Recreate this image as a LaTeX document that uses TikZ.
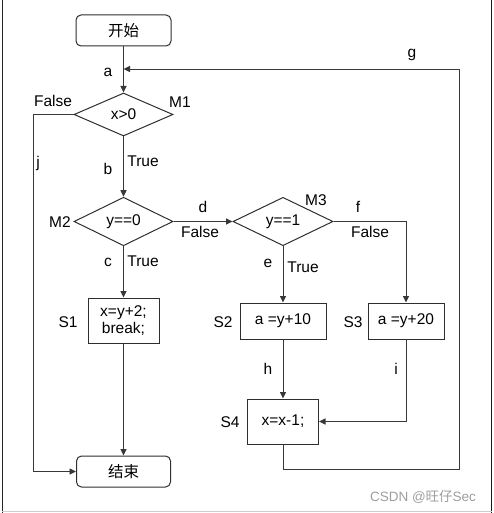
\documentclass[tikz,border=0pt]{standalone}
\usepackage{fontspec}
\setmainfont{Liberation Sans}
\newfontfamily\cjk{Noto Sans CJK SC}
\usetikzlibrary{shapes.geometric,arrows.meta}
\begin{document}
\begin{tikzpicture}[x=1pt,y=-1pt,
  every node/.style={font=\fontsize{15.5}{18}\selectfont, inner sep=0pt},
  lineclr/.style={draw=black!78, line width=0.9pt},
  arr/.style={lineclr, -{Triangle[length=6.5pt,width=6pt]}},
  startend/.style={draw=black!82, line width=1pt, rounded corners=5pt, minimum width=95pt, minimum height=31pt},
  dec/.style={diamond, draw=black!82, line width=1pt, minimum width=99pt, minimum height=43pt, inner sep=0pt},
  proc/.style={draw=black!82, line width=1pt, align=center},
  lbl/.style={font=\fontsize{15.5}{18}\selectfont}
]
\useasboundingbox (0,0) rectangle (493,513);
% frame
\draw[black!85, line width=1pt] (2,0) -- (2,513);
\draw[black!90, line width=1.5pt] (491.5,0) -- (491.5,513);
\draw[black!20, line width=1pt] (2,511.5) -- (491.5,511.5);

% nodes
\node[startend] (start) at (123.5,30.5) {\cjk 开始};
\node[dec] (m1) at (123.5,114.5) {x>0};
\node[dec] (m2) at (123.5,221.5) {y==0};
\node[dec, minimum width=100pt, minimum height=44pt] (m3) at (283,221.5) {y==1};
\node[proc, minimum width=71pt, minimum height=45pt] (s1) at (123.5,320.5) {x=y+2;\\[-1pt]break;};
\node[proc, minimum width=86pt, minimum height=36pt] (s2) at (283,321) {a =y+10};
\node[proc, minimum width=76pt, minimum height=36pt] (s3) at (406,321) {a =y+20};
\node[proc, minimum width=71pt, minimum height=45pt] (s4) at (283,421.5) {x=x-1;};
\node[startend, minimum width=94pt] (end) at (123.5,471.5) {\cjk 结束};

% helper coordinates
\coordinate (jb) at (33,471.5);
\coordinate (gb) at (459,469);
\coordinate (ga) at (123.5,69);

% connectors
\draw[arr] (start) -- (m1);
\draw[arr] (m1) -- (m2);
\draw[arr] (m2) -- (s1);
\draw[arr] (s1) -- (end);
\draw[arr] (m1.west) -| (jb) -- (end.west);
\draw[arr] (m2.east) -- (m3.west);
\draw[arr] (m3.south) -- (s2.north);
\draw[arr] (m3.east) -| (s3.north);
\draw[arr] (s2.south) -- (s4.north);
\draw[arr] (s3.south) |- (s4.east);
\draw[arr] (s4.south) |- (gb) |- (ga);

% labels
\node[lbl] (la) at (108,72) {a};
\node[lbl] (lf1) at (53,101) {False};
\node[lbl] (lm1) at (180,102) {M1};
\node[lbl] (lj) at (38,163) {j};
\node[lbl] (lb) at (108,169) {b};
\node[lbl] (lt1) at (143,161) {True};
\node[lbl] (lm2) at (60,222) {M2};
\node[lbl] (ld) at (203,207) {d};
\node[lbl] (lf2) at (200,232) {False};
\node[lbl] (lc) at (108,262) {c};
\node[lbl] (lt2) at (143,261) {True};
\node[lbl] (lm3) at (316,200) {M3};
\node[lbl] (lf) at (358,207) {f};
\node[lbl] (lf3) at (370,232) {False};
\node[lbl] (le) at (268,263) {e};
\node[lbl] (lt3) at (303,267) {True};
\node[lbl] (ls1) at (68,322) {S1};
\node[lbl] (ls2) at (223,322) {S2};
\node[lbl] (ls3) at (353,322) {S3};
\node[lbl] (lh) at (268,369) {h};
\node[lbl] (li) at (396,369) {i};
\node[lbl] (ls4) at (230,422) {S4};
\node[lbl] (lg) at (412,55) {g};
\node[font=\fontsize{13.5}{16}\selectfont, text=black!38] (wm) at (423,497) {CSDN @{\cjk 旺仔}Sec};
\end{tikzpicture}
\end{document}
